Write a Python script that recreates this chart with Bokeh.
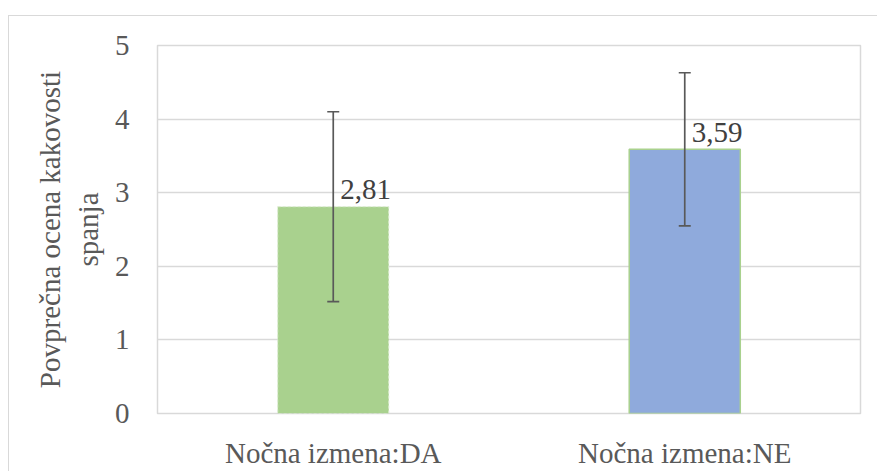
from bokeh.plotting import figure
from bokeh.models import ColumnDataSource, FactorRange, Range1d, Whisker, TeeHead, FixedTicker, InlineStyleSheet
from bokeh.core.properties import value
from bokeh.embed import file_html
from bokeh.resources import INLINE

categories = ["Nočna izmena:DA", "Nočna izmena:NE"]
means = [2.81, 3.59]
sds = [1.29, 1.04]
labels = ["2,81", "3,59"]
colors = ["#A9D18E", "#8FAADC"]
y_ticks = [0, 1, 2, 3, 4, 5]

src = ColumnDataSource(dict(
    x=categories,
    top=means,
    upper=[m + s for m, s in zip(means, sds)],
    lower=[m - s for m, s in zip(means, sds)],
    label=labels,
    color=colors,
))

FONT = "Liberation Serif"
TXT = "#595959"
GRID = "#D9D9D9"

p = figure(width=877, height=471, x_range=FactorRange(*categories), y_range=Range1d(0, 5),
           output_backend="svg", toolbar_location=None,
           min_border_left=157, min_border_right=17, min_border_top=45, min_border_bottom=58)
p.background_fill_color = "white"
p.border_fill_color = "white"
p.outline_line_color = GRID
p.outline_line_width = 1.5

# outer chart-area border (top and left edges visible in the window)
p.stylesheets = [InlineStyleSheet(css="""
:host::after {
  content: "";
  position: absolute;
  left: 8px; top: 15px; width: 869px; height: 456px;
  box-sizing: border-box;
  border-top: 1px solid #D9D9D9;
  border-left: 1px solid #D9D9D9;
  pointer-events: none;
}
""")]

# bars
p.vbar(x="x", top="top", width=0.316, source=src, fill_color="color", line_color=None)
p.vbar(x=[categories[0]], top=[means[0]], width=0.316, fill_color=None,
       line_color="#DCEBD2", line_dash="3 2", line_width=1)
p.vbar(x=[categories[1]], top=[means[1]], width=0.316, fill_color=None,
       line_color="#A9D18E", line_width=1.5)

# error bars
w = Whisker(base="x", upper="upper", lower="lower", source=src, level="overlay",
            line_color="#595959", line_width=1.7,
            upper_head=TeeHead(size=12, line_color="#595959", line_width=1.7),
            lower_head=TeeHead(size=12, line_color="#595959", line_width=1.7))
p.add_layout(w)

# data labels
p.text(x="x", y="top", text="label", source=src, text_font=value(FONT),
       text_font_size="29px", text_color="#404040", text_align="left",
       text_baseline="alphabetic", x_offset=7, y_offset=-17)

# axes
p.xgrid.grid_line_color = None
p.ygrid.grid_line_color = GRID
p.ygrid.grid_line_width = 1.5
p.yaxis.ticker = FixedTicker(ticks=y_ticks)
for ax in (p.xaxis[0], p.yaxis[0]):
    ax.axis_line_color = None
    ax.major_tick_line_color = None
    ax.minor_tick_line_color = None
    ax.major_label_text_font = FONT
    ax.major_label_text_font_size = "29px"
    ax.major_label_text_color = TXT
p.xaxis.major_label_standoff = 17
p.yaxis.major_label_standoff = 22
p.yaxis.axis_label = "Povprečna ocena kakovosti\nspanja"
p.yaxis.axis_label_text_font = FONT
p.yaxis.axis_label_text_font_size = "29px"
p.yaxis.axis_label_text_font_style = "normal"
p.yaxis.axis_label_text_color = TXT
p.yaxis.axis_label_standoff = 8

open("out.html", "w").write(file_html(p, INLINE))
